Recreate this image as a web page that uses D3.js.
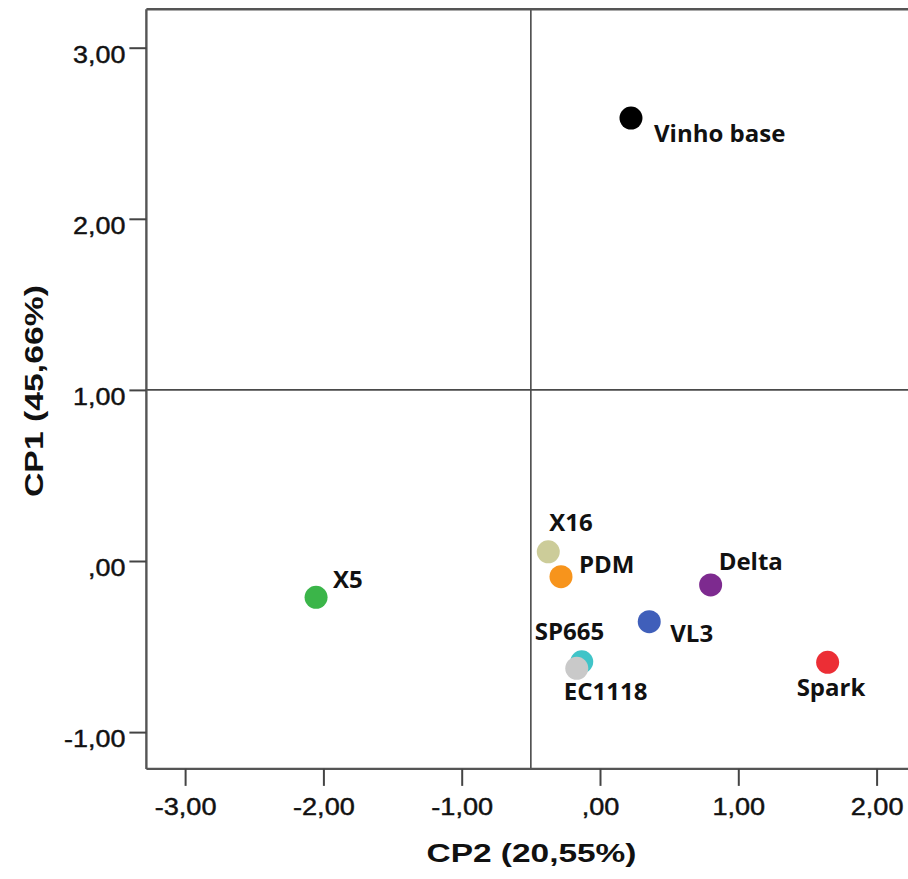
<!DOCTYPE html>
<html>
<head>
<meta charset="utf-8">
<script src="https://cdn.jsdelivr.net/npm/d3@7"></script>
<style>
  html, body { margin: 0; padding: 0; background: #fff; }
  svg { display: block; }
</style>
</head>
<body>
<script>
// ---- data ----
const names = ["Vinho base", "X16", "PDM", "Delta", "VL3", "SP665", "EC1118", "X5", "Spark"];
const cp2 = [0.224, -0.374, -0.282, 0.800, 0.356, -0.132, -0.168, -2.053, 1.646];
const cp1 = [2.589, 0.054, -0.092, -0.140, -0.355, -0.589, -0.627, -0.212, -0.592];
const colors = ["#000000", "#cccc99", "#f7941d", "#7d2a8f", "#3f5fba", "#40c4c8", "#c9c9c9", "#3ab54a", "#ec2f36"];
const xTicks = [-3, -2, -1, 0, 1, 2];
const yTicks = [-1, 0, 1, 2, 3];
const xTickLabels = ["-3,00", "-2,00", "-1,00", ",00", "1,00", "2,00"];
const yTickLabels = ["-1,00", ",00", "1,00", "2,00", "3,00"];
const refX = -0.5, refY = 1.0;
const xTitle = "CP2 (20,55%)";
const yTitle = "CP1 (45,66%)";
// label offsets (layout, px from point centre to label start/baseline)
const labelDx = [23, 1, 18, 8, 21, -47, -13, 17, -31];
const labelDy = [23.5, -21, -4, -15, 20, -21.6, 32, -9, 34];

// ---- layout ----
const W = 908, H = 879;
const xUnit = 138.3, x0px = 600;
const yUnit = 171.1, y0px = 561;
const xDom = [-3.28, 2.30];
const yDom = [-1.215, 3.225];

const x = d3.scaleLinear().domain(xDom).range(xDom.map(v => x0px + v * xUnit));
const y = d3.scaleLinear().domain(yDom).range(yDom.map(v => y0px - v * yUnit));

const svg = d3.select("body").append("svg").attr("width", W).attr("height", H);

const pLeft = x(xDom[0]), pRight = x(xDom[1]), pTop = y(yDom[1]), pBottom = y(yDom[0]);

// reference lines
svg.append("line").attr("x1", x(refX)).attr("x2", x(refX)).attr("y1", pTop).attr("y2", pBottom)
  .attr("stroke", "#4a4a4a").attr("stroke-width", 1.6);
svg.append("line").attr("x1", pLeft).attr("x2", pRight).attr("y1", y(refY)).attr("y2", y(refY))
  .attr("stroke", "#4a4a4a").attr("stroke-width", 1.6);

// frame: top border
svg.append("line").attr("x1", pLeft).attr("x2", pRight).attr("y1", pTop).attr("y2", pTop)
  .attr("stroke", "#555").attr("stroke-width", 2.4);

// axes
const xAxis = d3.axisBottom(x).tickValues(xTicks).tickSize(17).tickFormat((d, i) => xTickLabels[i]);
const yAxis = d3.axisLeft(y).tickValues(yTicks).tickSize(17).tickFormat((d, i) => yTickLabels[i]);

const gx = svg.append("g").attr("transform", `translate(0,${pBottom})`).call(xAxis);
const gy = svg.append("g").attr("transform", `translate(${pLeft},0)`).call(yAxis);

[gx, gy].forEach(g => {
  g.select(".domain").attr("stroke", "#555").attr("stroke-width", 2.4);
  g.selectAll(".tick line").attr("stroke", "#444").attr("stroke-width", 2);
  g.selectAll(".tick text")
    .attr("font-family", "'Liberation Sans', Arial, sans-serif")
    .attr("font-size", 24)
    .attr("fill", "#111")
    .attr("stroke", "#111").attr("stroke-width", 0.45);
});
gx.select(".domain").attr("d", `M${pLeft},0H${pRight}`);
gy.select(".domain").attr("d", `M0,${pTop}V${pBottom}`);

gx.selectAll(".tick text")
  .attr("dy", null).attr("y", 0)
  .attr("transform", "translate(0,46.5) scale(1.13,1)")
  .attr("text-anchor", "middle");
gy.selectAll(".tick text")
  .attr("dy", null).attr("x", 0)
  .attr("transform", "translate(-21,14.5) scale(1.12,1)")
  .attr("text-anchor", "end");

// axis titles
svg.append("text")
  .attr("x", 426.5).attr("y", 862)
  .attr("font-family", "'Liberation Sans', Arial, sans-serif")
  .attr("font-weight", "bold").attr("font-size", 26)
  .attr("fill", "#111")
  .attr("textLength", 210).attr("lengthAdjust", "spacingAndGlyphs")
  .text(xTitle);

svg.append("text")
  .attr("transform", `translate(43,497) rotate(-90)`)
  .attr("x", 0).attr("y", 0)
  .attr("font-family", "'Liberation Sans', Arial, sans-serif")
  .attr("font-weight", "bold").attr("font-size", 26)
  .attr("fill", "#111")
  .attr("textLength", 212).attr("lengthAdjust", "spacingAndGlyphs")
  .text(yTitle);

// points
const pts = names.map((n, i) => ({ name: n, x: cp2[i], y: cp1[i], color: colors[i], dx: labelDx[i], dy: labelDy[i] }));

const defs = svg.append("defs");
defs.append("filter").attr("id", "soft").attr("x", "-50%").attr("y", "-50%").attr("width", "200%").attr("height", "200%")
  .append("feGaussianBlur").attr("stdDeviation", 0.7);

svg.append("g").selectAll("circle").data(pts).join("circle")
  .attr("cx", d => x(d.x)).attr("cy", d => y(d.y))
  .attr("r", 11.5)
  .attr("fill", d => d.color)
  .attr("filter", "url(#soft)");

svg.append("g").selectAll("text").data(pts).join("text")
  .attr("x", d => x(d.x) + d.dx).attr("y", d => y(d.y) + d.dy)
  .attr("font-family", "'Open Sans', sans-serif")
  .attr("font-weight", "bold").attr("font-size", 24)
  .attr("fill", "#111")
  .text(d => d.name);
</script>
</body>
</html>
